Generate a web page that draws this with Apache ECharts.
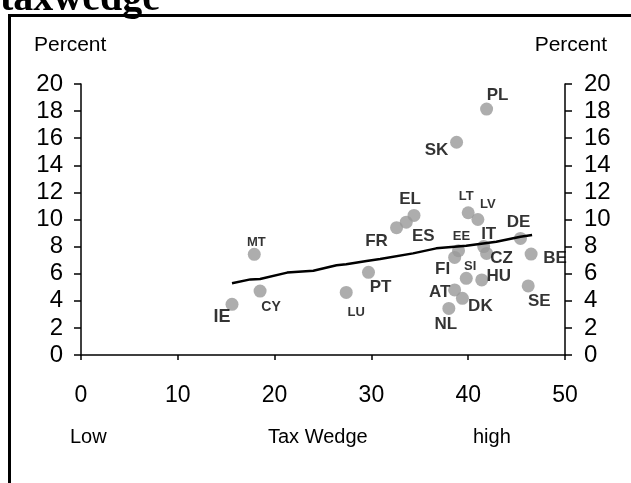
<!DOCTYPE html>
<html>
<head>
<meta charset="utf-8">
<style>
  html, body { margin: 0; padding: 0; background: #fff; }
  #chart { width: 631px; height: 483px; }
</style>
<script src="https://cdn.jsdelivr.net/npm/echarts@6/dist/echarts.min.js"></script>
</head>
<body>
<div id="chart"></div>
<script>
// Country codes, tax wedge (x, %) and unemployment rate (y, %)
const countries = ['IE','MT','CY','LU','PT','FR','ES','EL','PL','SK','LT','LV','DE','BE','SE','EE','FI','IT','CZ','SI','HU','AT','DK','NL'];
const taxWedge = [15.6,17.9,18.5,27.4,29.7,32.6,33.6,34.4,41.9,38.8,40.0,41.0,45.4,46.5,46.2,39.0,38.6,41.6,41.9,39.8,41.4,38.6,39.4,38.0];
const unemployment = [3.74,7.43,4.72,4.62,6.1,9.4,9.8,10.3,18.15,15.7,10.5,10.0,8.6,7.45,5.1,7.7,7.2,8.0,7.5,5.66,5.54,4.8,4.18,3.44];

// Fitted trend line vertices
const trendX = [15.6,17.5,18.5,21.3,24.0,26.4,27.4,29.5,30.9,34.3,36.7,39.8,42.9,45.4,46.6];
const trendY = [5.29,5.58,5.61,6.08,6.22,6.62,6.70,6.94,7.08,7.5,7.87,8.06,8.36,8.73,8.86];

// Axis ticks
const xTicks = [0, 10, 20, 30, 40, 50];
const yTicks = [0, 2, 4, 6, 8, 10, 12, 14, 16, 18, 20];

// Label placement per country: [dx, dy, text style]
const labelPlacement = {
  IE: [-10, 13, 'xl'], MT: [2, -12, 'sm'], CY: [11, 16, 'md'], LU: [10, 20, 'sm'],
  PT: [12, 15, 'lg'], FR: [-20, 14, 'lg'], ES: [17, 14, 'lg'], EL: [-4, -16, 'lg'],
  PL: [11, -14, 'lg'], SK: [-20, 8, 'lg'], LT: [-2, -16, 'sm'], LV: [10, -15, 'sm'],
  DE: [-2, -16, 'lg'], BE: [24, 4, 'lg'], SE: [11, 15, 'lg'], EE: [3, -14, 'sm'],
  FI: [-12, 12, 'lg'], IT: [5, -12, 'lg'], CZ: [15, 5, 'lg'], SI: [4, -12, 'sm'],
  HU: [17, -4, 'lg'], AT: [-15, 2, 'lg'], DK: [18, 8, 'lg'], NL: [-3, 16, 'lg']
};

const sans = '"Liberation Sans", Arial, sans-serif';
const labelText = (size) => ({ fontSize: size, fontWeight: 'bold', fontFamily: sans, color: '#000' });

const points = countries.map((c, i) => ({ name: c, value: [taxWedge[i], unemployment[i]] }));
const trend = trendX.map((x, i) => [x, trendY[i]]);

const yAxisBase = {
  type: 'value',
  min: yTicks[0],
  max: yTicks[yTicks.length - 1],
  interval: yTicks[1] - yTicks[0],
  axisLine: { show: true, lineStyle: { color: '#000', width: 1.5 } },
  axisTick: { show: true, inside: false, length: 7, lineStyle: { color: '#000', width: 1.5 } },
  splitLine: { show: false }
};
const yLabel = { color: '#000', fontFamily: sans, fontSize: 24 };

const chart = echarts.init(document.getElementById('chart'), null, { renderer: 'canvas' });

chart.setOption({
  animation: false,
  backgroundColor: '#fff',
  grid: { left: 81, right: 66, top: 84, bottom: 128, containLabel: false },
  xAxis: {
    type: 'value',
    min: xTicks[0],
    max: xTicks[xTicks.length - 1],
    interval: xTicks[1] - xTicks[0],
    axisLine: { lineStyle: { color: '#000', width: 1.5 } },
    axisTick: { show: true, inside: false, length: 5, lineStyle: { color: '#000', width: 1.5 } },
    axisLabel: { margin: 29, fontSize: 23, color: '#000', fontFamily: sans },
    splitLine: { show: false }
  },
  yAxis: [
    Object.assign({}, yAxisBase, { position: 'left', axisLabel: Object.assign({ margin: 18 }, yLabel) }),
    Object.assign({}, yAxisBase, { position: 'right', axisLabel: Object.assign({ margin: 19 }, yLabel) })
  ],
  series: [
    {
      type: 'scatter',
      data: points,
      symbol: 'circle',
      symbolSize: 13,
      itemStyle: { color: '#999999' },
      z: 2,
      label: {
        show: true,
        position: 'inside',
        formatter: (p) => '{' + labelPlacement[p.name][2] + '|' + p.name + '}',
        rich: { xl: labelText(18), lg: labelText(17), md: labelText(14), sm: labelText(13) }
      },
      labelLayout: (p) => {
        const lp = labelPlacement[countries[p.dataIndex]];
        return { dx: lp[0], dy: lp[1], hideOverlap: false };
      },
      emphasis: { disabled: true }
    },
    {
      type: 'line',
      data: trend,
      symbol: 'none',
      lineStyle: { color: '#000', width: 2.5 },
      z: 3,
      silent: true
    }
  ],
  graphic: [
    {
      type: 'text',
      style: { text: 'taxwedge', x: 0, y: 0, font: 'bold 40px "Liberation Serif", "Times New Roman", serif', fill: '#000', verticalAlign: 'middle' },
      z: 10
    },
    {
      type: 'rect',
      shape: { x: 9.5, y: 15.5, width: 640, height: 500 },
      style: { fill: 'none', stroke: '#000', lineWidth: 3 },
      z: 10
    },
    { type: 'text', style: { text: 'Percent', x: 34, y: 45, font: '21px ' + sans, fill: '#000', verticalAlign: 'middle' } },
    { type: 'text', style: { text: 'Percent', x: 607, y: 45, font: '21px ' + sans, fill: '#000', align: 'right', verticalAlign: 'middle' } },
    { type: 'text', style: { text: 'Low', x: 70, y: 437, font: '20px ' + sans, fill: '#000', verticalAlign: 'middle' } },
    { type: 'text', style: { text: 'Tax Wedge', x: 268, y: 437, font: '20px ' + sans, fill: '#000', verticalAlign: 'middle' } },
    { type: 'text', style: { text: 'high', x: 473, y: 437, font: '20px ' + sans, fill: '#000', verticalAlign: 'middle' } }
  ]
});
</script>
</body>
</html>
